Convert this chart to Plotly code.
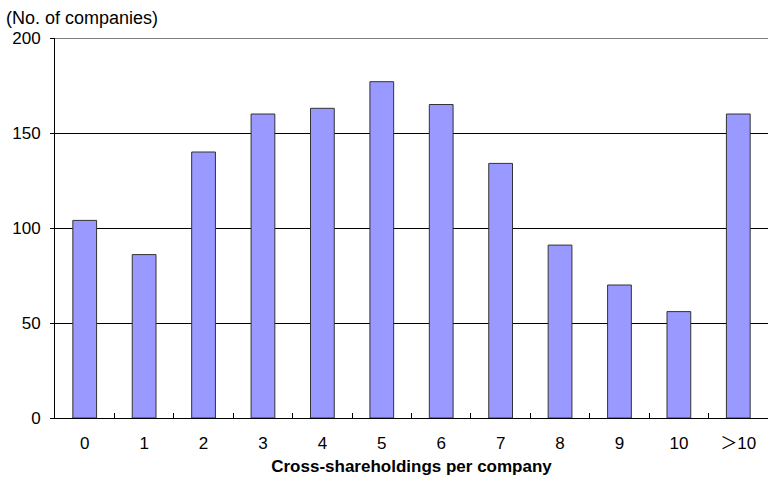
import plotly.graph_objects as go

categories = ["0", "1", "2", "3", "4", "5", "6", "7", "8", "9", "10", "＞10"]
values = [104, 86, 140, 160, 163, 177, 165, 134, 91, 70, 56, 160]
y_ticks = [0, 50, 100, 150, 200]

FONT = "'Liberation Sans', Arial, 'Noto Sans CJK JP', sans-serif"

fig = go.Figure(go.Bar(
    x=categories, y=values,
    marker=dict(color="#9999FF", line=dict(color="#333333", width=1)),
    width=0.4,
))

fig.update_layout(
    width=768, height=480,
    margin=dict(l=55, r=0, t=38, b=62),
    plot_bgcolor="white", paper_bgcolor="white",
    showlegend=False,
    font=dict(family=FONT, size=16, color="black"),
    annotations=[dict(
        text="(No. of companies)", xref="paper", yref="paper",
        x=-51/713, y=1 + 32/380, xanchor="left", yanchor="top",
        showarrow=False, font=dict(family=FONT, size=18, color="black"),
    )],
    shapes=[dict(type="line", xref="paper", yref="y", x0=0, x1=1, y0=200, y1=200,
                 line=dict(color="black", width=1))],
)

fig.update_xaxes(
    type="category",
    showline=True, linecolor="black", linewidth=1,
    ticks="inside", tickson="boundaries", ticklen=5, tickcolor="black",
    tickfont=dict(family=FONT, size=17),
    ticklabelstandoff=10,
    title=dict(text="<b>Cross-shareholdings per company</b>", font=dict(family=FONT, size=17), standoff=7),
    showgrid=False,
)
fig.update_yaxes(
    range=[0, 200], tickvals=y_ticks,
    showline=True, linecolor="black", linewidth=1,
    ticks="outside", ticklen=4, tickcolor="black",
    ticklabelstandoff=6,
    showgrid=True, gridcolor="black", gridwidth=1,
    tickfont=dict(family=FONT, size=17),
    zeroline=False,
)

fig.write_html("out.html")
